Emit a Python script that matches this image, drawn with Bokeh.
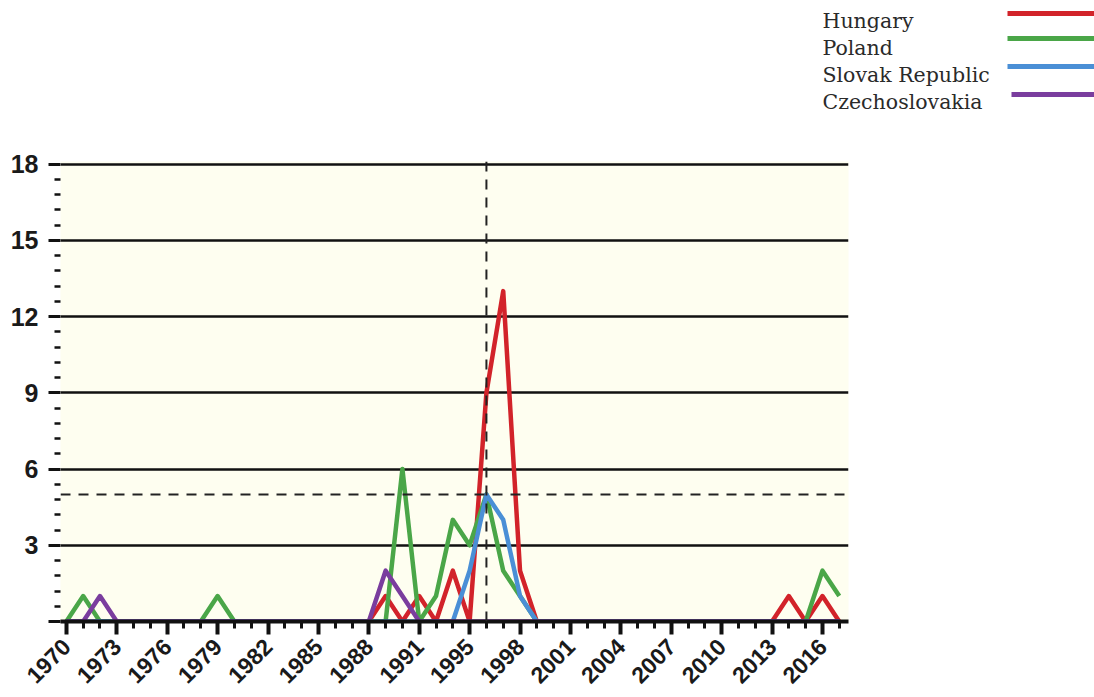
import math
from bokeh.plotting import figure
from bokeh.layouts import column
from bokeh.models import Range1d, FixedTicker, Span
from bokeh.core.properties import value
from bokeh.embed import file_html
from bokeh.resources import INLINE

# ---------------- data ----------------
# x = slot index on the chart's year axis (one slot per year shown)
slots = list(range(47))
tick_slots = [0, 3, 6, 9, 12, 15, 18, 21, 24, 27, 30, 33, 36, 39, 42, 45]
tick_labels = ["1970", "1973", "1976", "1979", "1982", "1985", "1988", "1991",
               "1995", "1998", "2001", "2004", "2007", "2010", "2013", "2016"]

countries = ["Hungary", "Poland", "Slovak Republic", "Czechoslovakia"]
colors = ["#d2232a", "#4aa648", "#4a8fd6", "#7a3d9e"]

hungary = [0, 0, 0, 0, 0, 0, 0, 0, 0, 0,
           0, 0, 0, 0, 0, 0, 0, 0, 0, 1,
           0, 1, 0, 2, 0, 9, 13, 2, 0, 0,
           0, 0, 0, 0, 0, 0, 0, 0, 0, 0,
           0, 0, 0, 1, 0, 1, 0]
poland = [0, 1, 0, 0, 0, 0, 0, 0, 0, 1,
          0, 0, 0, 0, 0, 0, 0, 0, 0, 0,
          6, 0, 1, 4, 3, 5, 2, 1, 0, 0,
          0, 0, 0, 0, 0, 0, 0, 0, 0, 0,
          0, 0, 0, 0, 0, 2, 1]
slovak = [0, 0, 0, 0, 0, 0, 0, 0, 0, 0,
          0, 0, 0, 0, 0, 0, 0, 0, 0, 0,
          0, 0, 0, 0, 2, 5, 4, 1, 0, 0,
          0, 0, 0, 0, 0, 0, 0, 0, 0, 0,
          0, 0, 0, 0, 0, 0, 0]
czech = [0, 0, 1, 0, 0, 0, 0, 0, 0, 0,
         0, 0, 0, 0, 0, 0, 0, 0, 0, 2,
         1, 0, 0, 0, 0, 0, 0, 0, 0, 0,
         0, 0, 0, 0, 0, 0, 0, 0, 0, 0,
         0, 0, 0, 0, 0, 0, 0]
series = [hungary, poland, slovak, czech]

y_major = [0, 3, 6, 9, 12, 15, 18]
threshold = 5          # horizontal dashed reference
marker_slot = 25       # vertical dashed reference (1996)

# ---------------- legend strip (top) ----------------
PW = 1094
LH = 140
leg = figure(width=PW, height=LH, output_backend="svg", toolbar_location=None,
             x_range=Range1d(0, PW), y_range=Range1d(LH, 0),
             min_border=0, outline_line_color=None, frame_align=False)
leg.axis.visible = False
leg.grid.visible = False
text_y = [20 + 27 * i for i in range(4)]
line_y = [13, 38, 66, 94]
leg.text(x=[822] * 4, y=text_y, text=countries,
         text_font=value("DejaVu Serif"), text_font_size="20.5px",
         text_color="#2a2a2a", text_baseline="middle", text_align="left")
leg.segment(x0=[1007, 1007, 1007, 1011], x1=[PW] * 4, y0=line_y, y1=line_y,
            line_color=colors, line_width=5)

# ---------------- main chart ----------------
MH = 697 - LH
TOP = 161 - LH
p = figure(width=PW, height=MH, output_backend="svg", toolbar_location=None,
           x_range=Range1d(-0.35, 46.55), y_range=Range1d(0, 18.1),
           min_border_left=60, min_border_right=PW - 848,
           min_border_top=TOP, min_border_bottom=MH - TOP - 460,
           background_fill_color="#fefef0", border_fill_color="white",
           outline_line_color=None, frame_align=False)

for vals, col in zip(series, colors):
    p.line(slots, vals, line_color=col, line_width=4.5, line_join="round")

p.add_layout(Span(location=threshold, dimension="width", line_color="#222",
                  line_width=2, line_dash="10 8"))
p.add_layout(Span(location=marker_slot, dimension="height", line_color="#222",
                  line_width=2, line_dash="10 8"))

# grid
p.xgrid.visible = False
p.ygrid.ticker = FixedTicker(ticks=y_major[1:])
p.ygrid.grid_line_color = "#111"
p.ygrid.grid_line_width = 2.5

# y axis
minor_y = [round(0.6 * k, 1) for k in range(31)
           if (0.6 * k) % 3 > 0.01 and 3 - (0.6 * k) % 3 > 0.01]
p.yaxis.ticker = FixedTicker(ticks=y_major, minor_ticks=minor_y)
p.yaxis.major_label_overrides = {0: ""}
p.yaxis.axis_line_color = None
p.yaxis.major_tick_line_width = 3
p.yaxis.major_tick_line_color = "#111"
p.yaxis.major_tick_out = 12
p.yaxis.major_tick_in = 0
p.yaxis.minor_tick_line_width = 2.5
p.yaxis.minor_tick_line_color = "#111"
p.yaxis.minor_tick_out = 6
p.yaxis.minor_tick_in = 0
p.yaxis.major_label_text_font = "Liberation Sans"
p.yaxis.major_label_text_font_style = "bold"
p.yaxis.major_label_text_font_size = "25px"
p.yaxis.major_label_text_color = "#1a1a1a"
p.yaxis.major_label_standoff = 10

# x axis
p.xaxis.ticker = FixedTicker(ticks=tick_slots, minor_ticks=slots)
p.xaxis.major_label_overrides = {s: l for s, l in zip(tick_slots, tick_labels)}
p.xaxis.major_label_orientation = math.pi / 4
p.xaxis.axis_line_width = 4
p.xaxis.axis_line_color = "#111"
p.xaxis.major_tick_line_width = 4
p.xaxis.major_tick_line_color = "#111"
p.xaxis.major_tick_out = 13
p.xaxis.major_tick_in = 0
p.xaxis.minor_tick_line_width = 3
p.xaxis.minor_tick_line_color = "#111"
p.xaxis.minor_tick_out = 7
p.xaxis.minor_tick_in = 0
p.xaxis.major_label_text_font = "Liberation Sans"
p.xaxis.major_label_text_font_style = "bold"
p.xaxis.major_label_text_font_size = "23px"
p.xaxis.major_label_text_color = "#1a1a1a"
p.xaxis.major_label_standoff = 8

layout = column(leg, p, spacing=0)
open("out.html", "w").write(file_html(layout, INLINE))
